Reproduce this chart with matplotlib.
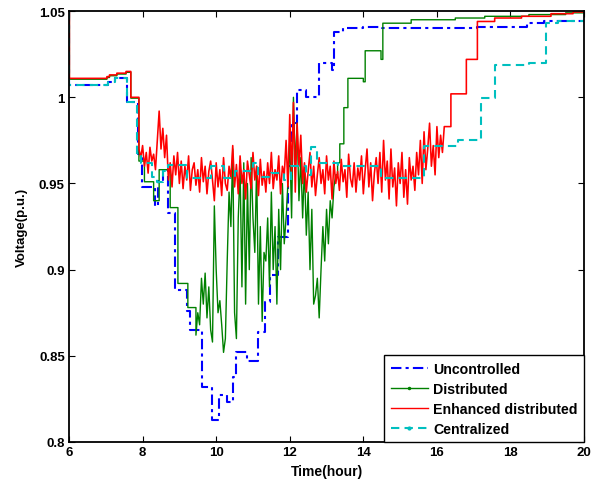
import numpy as np
import matplotlib
matplotlib.use('Agg')
import matplotlib.pyplot as plt
from matplotlib.lines import Line2D

plt.rcParams['font.family'] = ['Liberation Sans', 'DejaVu Sans']
plt.rcParams['font.weight'] = 'bold'
plt.rcParams['font.size'] = 9.5

# ---- data (time in hours, voltage in p.u.) ----
labels = ['Uncontrolled', 'Distributed', 'Enhanced distributed', 'Centralized']

# uncontrolled: step curve
blue_t = [6.0, 6.01, 7.06, 7.25, 7.58, 7.87, 7.98, 8.33, 8.43, 8.55,
          8.68, 8.88, 9.2, 9.29, 9.62, 9.9, 10.08, 10.3, 10.46, 10.55,
          10.83, 11.14, 11.33, 11.46, 11.68, 11.95, 12.05, 12.2, 12.44, 12.8,
          13.14, 13.2, 13.45, 14.0, 14.5, 17.1, 18.45, 18.9, 20.0]
blue_v = [1.05, 1.007, 1.009, 1.011, 0.997, 0.967, 0.948, 0.937, 0.952, 0.958,
          0.933, 0.888, 0.876, 0.865, 0.832, 0.813, 0.827, 0.823, 0.838, 0.852,
          0.847, 0.864, 0.881, 0.897, 0.919, 0.960, 0.985, 1.004, 1.000, 1.020,
          1.016, 1.038, 1.040, 1.041, 1.040, 1.041, 1.043, 1.044, 1.044]

# distributed: steps, fluctuating part (every 0.05 h), steps
green_t1 = [6.0, 6.01, 7.03, 7.1, 7.3, 7.55, 7.68, 7.9, 8.05, 8.3,
            8.45, 8.75, 8.96, 9.23, 9.45]
green_v1 = [1.05, 1.0105, 1.0115, 1.0125, 1.0135, 1.0145, 0.9995, 0.963, 0.951, 0.940,
            0.958, 0.936, 0.892, 0.878, 0.862]
green_noise_span = (9.45, 13.2)
green_noise = [0.862, 0.875, 0.868, 0.895, 0.880, 0.898, 0.872, 0.890, 0.865, 0.858,
               0.937, 0.900, 0.875, 0.882, 0.868, 0.852, 0.860, 0.905, 0.945, 0.925,
               0.970, 0.875, 0.860, 0.930, 0.958, 0.890, 0.962, 0.880, 0.950, 0.900,
               0.965, 0.930, 0.910, 0.960, 0.880, 0.925, 0.870, 0.910, 0.905, 0.930,
               0.890, 0.945, 0.900, 0.925, 0.880, 0.935, 0.900, 0.950, 0.915, 0.930,
               0.950, 0.975, 0.930, 1.000, 0.960, 0.985, 0.940, 0.965, 0.930, 0.960,
               0.920, 0.945, 0.900, 0.935, 0.880, 0.885, 0.895, 0.872, 0.900, 0.925,
               0.905, 0.935, 0.915, 0.940, 0.930, 0.948]
green_t2 = [13.25, 13.3, 13.36, 13.47, 13.58, 14.0, 14.05, 14.48, 14.53, 15.3,
            16.5, 17.3, 18.5, 19.5, 20.0]
green_v2 = [0.955, 0.962, 0.973, 0.994, 1.011, 1.009, 1.027, 1.022, 1.043, 1.045,
            1.046, 1.047, 1.048, 1.049, 1.049]

# enhanced distributed
red_t1 = [6.0, 6.01, 7.03, 7.1, 7.3, 7.55, 7.68, 7.9]
red_v1 = [1.05, 1.011, 1.012, 1.013, 1.014, 1.015, 1.0, 0.970]
red_noise_span = (7.9, 16.15)
red_noise = [0.970, 0.965, 0.972, 0.960, 0.968, 0.956, 0.971, 0.963, 0.967, 0.958,
             0.975, 0.992, 0.970, 0.982, 0.965, 0.978, 0.952, 0.962, 0.948, 0.966,
             0.955, 0.968, 0.950, 0.963, 0.947, 0.960, 0.952, 0.966, 0.946, 0.958,
             0.962, 0.949, 0.958, 0.945, 0.965, 0.951, 0.960, 0.944, 0.957, 0.963,
             0.952, 0.940, 0.962, 0.948, 0.958, 0.943, 0.965, 0.950, 0.946, 0.960,
             0.953, 0.972, 0.948, 0.961, 0.944, 0.966, 0.950, 0.958, 0.941, 0.963,
             0.955, 0.947, 0.968, 0.952, 0.960, 0.943, 0.964, 0.949, 0.957, 0.945,
             0.962, 0.950, 0.968, 0.947, 0.958, 0.952, 0.966, 0.944, 0.960, 0.955,
             0.975, 0.948, 0.990, 0.955, 0.997, 0.945, 0.985, 0.960, 0.978, 0.950,
             0.962, 0.945, 0.957, 0.968, 0.948, 0.960, 0.943, 0.955, 0.965, 0.950,
             0.958, 0.944, 0.966, 0.952, 0.960, 0.941, 0.963, 0.950, 0.957, 0.946,
             0.964, 0.951, 0.958, 0.942, 0.967, 0.953, 0.948, 0.962, 0.945, 0.959,
             0.952, 0.966, 0.944, 0.958, 0.970, 0.948, 0.962, 0.940, 0.956, 0.965,
             0.950, 0.968, 0.945, 0.975, 0.952, 0.963, 0.941, 0.970, 0.948, 0.959,
             0.937, 0.962, 0.950, 0.968, 0.942, 0.958, 0.938, 0.965, 0.952, 0.960,
             0.946, 0.968, 0.955, 0.975, 0.950, 0.980, 0.958, 0.970, 0.985, 0.960,
             0.972, 0.955, 0.983, 0.965, 0.978, 0.968]
red_t2 = [16.2, 16.38, 16.8, 17.1, 17.57, 18.3, 19.1, 19.7, 20.0]
red_v2 = [0.983, 1.002, 1.022, 1.044, 1.046, 1.047, 1.0485, 1.0495, 1.0495]

# centralized: step curve
cyan_t = [6.0, 6.01, 7.06, 7.25, 7.58, 7.85, 7.95, 8.25, 8.4, 8.55,
          8.7, 9.2, 9.85, 10.2, 10.5, 11.0, 11.15, 11.5, 11.85, 12.03,
          12.44, 12.58, 12.75, 13.3, 14.48, 15.65, 16.57, 17.2, 17.58, 18.5,
          18.96, 19.3, 20.0]
cyan_v = [1.05, 1.007, 1.009, 1.011, 0.997, 0.967, 0.962, 0.954, 0.951, 0.957,
          0.961, 0.953, 0.960, 0.953, 0.957, 0.962, 0.954, 0.956, 0.952, 0.960,
          0.955, 0.971, 0.962, 0.960, 0.953, 0.972, 0.975, 0.9995, 1.019, 1.020,
          1.043, 1.044, 1.044]


def steps(t, v):
    xs, ys = [], []
    for i in range(len(t) - 1):
        xs += [t[i], t[i + 1]]
        ys += [v[i], v[i]]
    xs.append(t[-1])
    ys.append(v[-1])
    return xs, ys


def noisy(span, vals):
    return list(np.linspace(span[0], span[1], len(vals))), list(vals)


bx, by = steps(blue_t, blue_v)

gx1, gy1 = steps(green_t1, green_v1)
gxn, gyn = noisy(green_noise_span, green_noise)
gx2, gy2 = steps(green_t2, green_v2)
gx, gy = gx1 + gxn + gx2, gy1 + gyn + gy2

rx1, ry1 = steps(red_t1, red_v1)
rxn, ryn = noisy(red_noise_span, red_noise)
rx2, ry2 = steps(red_t2, red_v2)
rx, ry = rx1 + rxn + rx2, ry1 + ryn + ry2

cx, cy = steps(cyan_t, cyan_v)

blue = '#0000ff'
green = '#008000'
red = '#ff0000'
cyan = '#00bfbf'
dashdot = (0, (5, 2, 1.5, 2))
dashed = (0, (4, 2.5))

fig = plt.figure(figsize=(5.96, 4.85), dpi=100)
ax = fig.add_axes([0.1158, 0.0866, 0.8642, 0.8884])

ax.plot(bx, by, color=blue, linestyle=dashdot, lw=1.5)
ax.plot(gx, gy, color=green, lw=1.0)
ax.plot(rx, ry, color=red, lw=1.15)
ax.plot(cx, cy, color=cyan, linestyle=dashed, lw=1.5)

ax.set_xlim(6, 20)
ax.set_ylim(0.8, 1.05)
ax.set_xticks(np.arange(6, 21, 2))
ax.set_yticks([0.8, 0.85, 0.9, 0.95, 1.0, 1.05])
ax.set_yticklabels(['0.8', '0.85', '0.9', '0.95', '1', '1.05'])
ax.tick_params(direction='in', top=True, right=True, length=4, width=0.8,
               labelsize=9.5, pad=3)
for s in ax.spines.values():
    s.set_linewidth(1.3)

ax.set_xlabel('Time(hour)', fontsize=10, fontweight='bold', labelpad=4)
ax.set_ylabel('Voltage(p.u.)', fontsize=9.5, fontweight='bold', labelpad=8)

handles = [
    Line2D([], [], color=blue, linestyle=dashdot, lw=1.5),
    Line2D([], [], color=green, lw=1.0, marker='.', markersize=3),
    Line2D([], [], color=red, lw=1.0),
    Line2D([], [], color=cyan, linestyle=dashed, lw=1.5, marker='.', markersize=4),
]
leg = ax.legend(handles, labels, loc='lower right', borderaxespad=0,
                fancybox=False, framealpha=1, edgecolor='black',
                handlelength=2.6, handletextpad=0.4, labelspacing=0.42,
                borderpad=0.45, prop={'weight': 'bold', 'size': 10.2})
leg.get_frame().set_linewidth(1.0)

fig.savefig('out.png', dpi=100)
